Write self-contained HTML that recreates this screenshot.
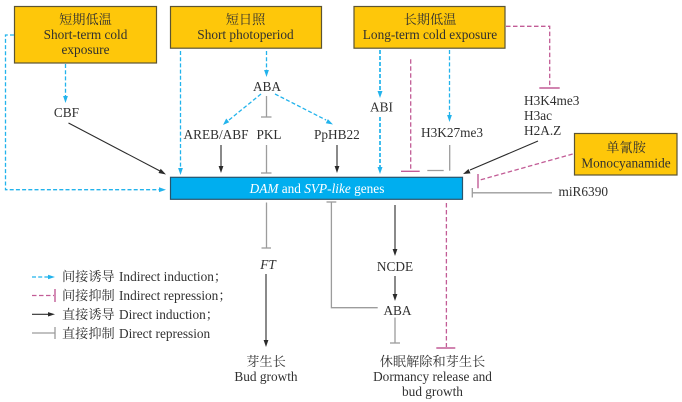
<!DOCTYPE html>
<html><head><meta charset="utf-8">
<style>
html,body{margin:0;padding:0;background:#fff;width:682px;height:402px;overflow:hidden}
svg{display:block}
text{font-family:"Liberation Serif","Noto Serif CJK SC",serif;font-size:13.3px;fill:#303030}
.c{text-anchor:middle}
.cn{font-size:13.2px}
.box{fill:#fec70a;stroke:#5c5432;stroke-width:1.2}
.ind{stroke:#22b3ec;stroke-width:1.3;stroke-dasharray:4 2.2;fill:none}
.indB{stroke:#22b3ec;stroke-width:1.7;stroke-dasharray:4 2;fill:none}
.rep{stroke:#c25c96;stroke-width:1.3;stroke-dasharray:4.5 2.5;fill:none}
.repS{stroke:#c25c96;stroke-width:1.4;fill:none}
.dir{stroke:#2a2a2a;stroke-width:1.1;fill:none}
.gr{stroke:#9c9c9c;stroke-width:1.3;fill:none}
.ab{fill:#22b3ec}.ak{fill:#2a2a2a}
</style></head><body>
<svg width="682" height="402" viewBox="0 0 682 402" xmlns="http://www.w3.org/2000/svg">
<!-- boxes -->
<rect class="box" x="14.500" y="6.500" width="142" height="56.500"/>
<rect class="box" x="170.500" y="6.500" width="151" height="41.700"/>
<rect class="box" x="354" y="6.500" width="151" height="41.700"/>
<rect class="box" x="574.500" y="133.500" width="102.500" height="41.500"/>
<rect x="170.500" y="177.300" width="292" height="22" fill="#00aeef" stroke="#28546c" stroke-width="1.2"/>

<!-- box text -->
<text class="c cn" x="85.500" y="24">短期低温</text>
<text class="c" x="85.500" y="39">Short-term cold</text>
<text class="c" x="85.500" y="54">exposure</text>
<text class="c cn" x="245.500" y="24">短日照</text>
<text class="c" x="245.500" y="39">Short photoperiod</text>
<text class="c cn" x="430" y="24">长期低温</text>
<text class="c" x="430" y="39">Long-term cold exposure</text>
<text class="c cn" x="626" y="152">单氰胺</text>
<text class="c" x="626" y="167.500">Monocyanamide</text>
<text class="c" x="317" y="193" style="fill:#fff"><tspan font-style="italic">DAM</tspan> and <tspan font-style="italic">SVP-like</tspan> genes</text>

<!-- labels -->
<text class="c" x="267" y="91">ABA</text>
<text class="c" x="66.500" y="117">CBF</text>
<text class="c" x="216" y="139">AREB/ABF</text>
<text class="c" x="269" y="139">PKL</text>
<text x="314" y="139">PpHB22</text>
<text class="c" x="381.500" y="111.500">ABI</text>
<text class="c" x="452" y="137">H3K27me3</text>
<text x="524" y="105">H3K4me3</text>
<text x="524" y="120">H3ac</text>
<text x="524" y="135">H2A.Z</text>
<text x="558.500" y="196">miR6390</text>
<text class="c" x="268" y="269" font-style="italic">FT</text>
<text class="c" x="395" y="271">NCDE</text>
<text class="c" x="397.500" y="315">ABA</text>
<text class="c cn" x="266" y="366">芽生长</text>
<text class="c" x="266" y="381">Bud growth</text>
<text class="c cn" x="432.500" y="366">休眠解除和芽生长</text>
<text class="c" x="432.500" y="381">Dormancy release and</text>
<text class="c" x="432.500" y="396">bud growth</text>

<!-- legend -->
<text class="cn" x="62" y="281">间接诱导</text><text x="119" y="281">Indirect induction；</text>
<text class="cn" x="62" y="300">间接抑制</text><text x="119" y="300">Indirect repression；</text>
<text class="cn" x="62" y="319">直接诱导</text><text x="119" y="319">Direct induction；</text>
<text class="cn" x="62" y="338">直接抑制</text><text x="119" y="338">Direct repression</text>

<line class="ind" x1="32" y1="277" x2="48" y2="277"/><path class="ab" d="M55 277l-7-2.200v4.400z"/>
<line class="rep" x1="32" y1="295.500" x2="54" y2="295.500"/><line class="repS" x1="55" y1="289" x2="55" y2="302"/>
<line class="dir" x1="32" y1="314.300" x2="48" y2="314.300"/><path class="ak" d="M55 314.300l-7-2.200v4.400z"/>
<line class="gr" x1="32" y1="333" x2="55" y2="333"/><line class="gr" x1="55" y1="327" x2="55" y2="339"/>

<!-- indirect induction -->
<path class="ind" d="M14 35H5.500V189.700H159"/><path class="ab" d="M166 189.700l-7-2.400v4.800z"/>
<line class="ind" x1="65.500" y1="64" x2="65.500" y2="96"/><path class="ab" d="M65.500 103l-2.400-7h4.800z"/>
<line class="ind" x1="180.500" y1="51" x2="180.500" y2="168"/><path class="ab" d="M180.500 175l-2.400-7h4.800z"/>
<line class="ind" x1="266.500" y1="51" x2="266.500" y2="70"/><path class="ab" d="M266.500 77l-2.400-7h4.800z"/>
<line class="ind" x1="261" y1="94" x2="229" y2="120"/><path class="ab" d="M223 125l3.200-6.500 3 3.700z"/>
<line class="ind" x1="275" y1="94" x2="326" y2="120"/><path class="ab" d="M333 124.500l-7.200-1.200 2.100-4.200z"/>
<line class="indB" x1="380" y1="50" x2="380" y2="91"/><path class="ab" d="M380 98l-2.500-7h5z"/>
<line class="indB" x1="380" y1="117" x2="380" y2="167"/><path class="ab" d="M380 174l-2.500-7h5z"/>
<line class="ind" x1="449.500" y1="50" x2="449.500" y2="115"/><path class="ab" d="M449.500 122l-2.400-7h4.800z"/>

<!-- direct induction -->
<line class="dir" x1="68.500" y1="123" x2="160" y2="171"/><path class="ak" d="M166 174.500l-7.500-1.500 2.200-4.200z"/>
<line class="dir" x1="221" y1="145" x2="221" y2="166"/><path class="ak" d="M221 173l-2.400-7h4.800z"/>
<line class="dir" x1="337" y1="145" x2="337" y2="166"/><path class="ak" d="M337 173l-2.400-7h4.800z"/>
<line class="dir" x1="538" y1="141" x2="470" y2="170"/><path class="ak" d="M463 174l5.500-5 2 4.400z"/>
<line class="dir" x1="266" y1="274" x2="266" y2="340"/><path class="ak" d="M266 347l-2.400-7h4.800z"/>
<line class="dir" x1="395" y1="205" x2="395" y2="249"/><path class="ak" d="M395 256l-2.400-7h4.800z"/>
<line class="dir" x1="395" y1="276" x2="395" y2="294"/><path class="ak" d="M395 301l-2.400-7h4.800z"/>

<!-- direct repression -->
<line class="gr" x1="266.500" y1="96" x2="266.500" y2="117"/><line class="gr" x1="261" y1="117" x2="271.500" y2="117"/>
<line class="gr" x1="266.500" y1="145" x2="266.500" y2="173"/><line class="gr" x1="261" y1="173" x2="271.500" y2="173"/>
<line class="gr" x1="266.500" y1="202.500" x2="266.500" y2="248"/><line class="gr" x1="261.500" y1="248" x2="271" y2="248"/>
<path class="gr" d="M449.700 145V170.700"/><line class="gr" x1="427.300" y1="170.500" x2="443.700" y2="170.500"/>
<path class="gr" d="M377.700 307.700H331.400V202"/><line class="gr" x1="326.500" y1="202" x2="336.300" y2="202"/>
<line class="gr" x1="395" y1="317.500" x2="395" y2="343"/><line class="gr" x1="390" y1="343" x2="400" y2="343"/>
<line class="gr" x1="472.300" y1="192.800" x2="552" y2="192.800"/><line class="gr" x1="472.300" y1="188" x2="472.300" y2="197.500"/>

<!-- indirect repression -->
<path class="rep" d="M506 26.300H549.700V87"/><line class="repS" x1="539.300" y1="88" x2="559.700" y2="88"/>
<line class="rep" x1="410.700" y1="59.300" x2="410.700" y2="171"/><line class="repS" x1="401" y1="171.300" x2="419.700" y2="171.300"/>
<line class="rep" x1="572.700" y1="154" x2="480" y2="180"/><line class="repS" x1="478" y1="174" x2="478" y2="188.300"/>
<line class="rep" x1="446.400" y1="203" x2="446.400" y2="347"/><line class="repS" x1="436.300" y1="348" x2="455.300" y2="348"/>
</svg>
</body></html>
